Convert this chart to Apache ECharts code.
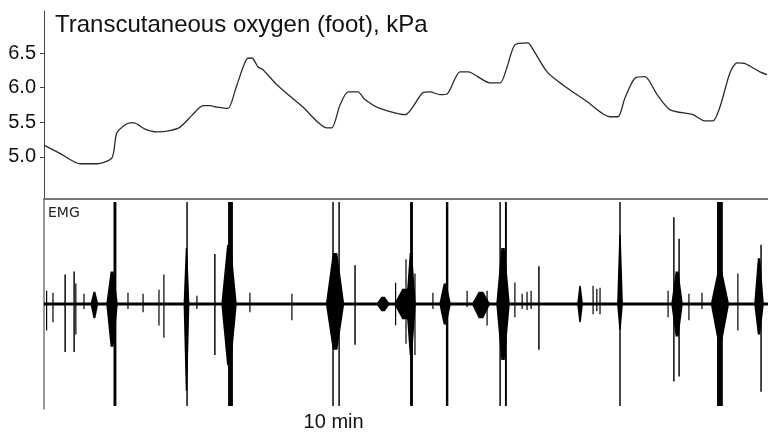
<!DOCTYPE html>
<html>
<head>
<meta charset="utf-8">
<script src="https://cdn.jsdelivr.net/npm/echarts@6/dist/echarts.min.js"></script>
<style>html,body{margin:0;padding:0;background:#fff}#c{width:768px;height:432px}</style>
</head>
<body>
<div id="c"></div>
<script>
// ---- Transcutaneous oxygen (foot), kPa : time in minutes ----
const o2Time = [0.00,0.55,1.24,1.83,2.35,2.52,2.97,3.11,3.49,3.90,4.35,4.70,5.11,5.49,5.73,5.97,6.35,6.63,7.01,7.18,7.39,7.56,8.05,8.94,9.77,9.94,10.22,10.50,10.84,11.08,11.60,12.47,13.09,13.33,13.67,13.92,14.36,14.64,15.40,15.75,15.99,16.26,16.71,16.89,17.37,17.92,18.75,19.54,19.82,20.06,20.41,20.75,21.17,21.62,22.41,22.82,23.10,23.34,23.69,23.93,24.21,24.72,24.97];
const o2Value = [5.17,5.05,4.90,4.90,4.99,5.35,5.49,5.49,5.40,5.36,5.38,5.43,5.60,5.74,5.74,5.72,5.70,6.00,6.42,6.43,6.30,6.26,6.04,5.72,5.42,5.42,5.75,5.94,5.94,5.83,5.70,5.61,5.93,5.94,5.90,5.91,6.23,6.23,6.07,6.07,6.30,6.62,6.65,6.55,6.23,6.04,5.80,5.58,5.58,5.85,6.14,6.16,5.90,5.68,5.61,5.52,5.52,5.72,6.22,6.36,6.35,6.23,6.19];
const o2Ticks = [5.0, 5.5, 6.0, 6.5];

// ---- EMG spikes: time (min), upper amp, lower amp, duration (s) ----
const spikeT    = [0.09,0.31,0.73,1.04,1.10,1.38,2.45,2.90,3.42,3.97,4.14,4.94,5.28,5.90,6.44,7.11,8.56,9.98,10.19,10.74,12.14,12.50,12.69,12.81,13.43,13.92,14.61,15.30,15.75,15.95,16.26,16.51,16.68,16.82,17.09,18.96,19.09,19.20,19.89,21.55,21.75,21.93,22.27,22.72,23.34,23.96,24.76];
const spikeUp   = [0.13,0.11,0.29,0.32,0.20,0.10,1.00,0.11,0.10,0.14,0.29,1.00,0.08,0.49,1.00,0.11,0.10,1.00,1.00,0.38,0.21,0.44,1.00,0.30,0.11,1.00,0.13,0.13,1.00,1.00,0.21,0.10,0.12,0.13,0.37,0.18,0.15,0.16,1.00,0.13,0.85,0.64,0.10,0.11,1.00,0.30,0.58];
const spikeDown = [-0.26,-0.18,-0.47,-0.47,-0.30,-0.05,-1.00,-0.05,-0.08,-0.21,-0.33,-1.00,-0.05,-0.50,-1.00,-0.08,-0.16,-1.00,-1.00,-0.40,-0.21,-0.39,-1.00,-0.50,-0.05,-1.00,-0.03,-0.21,-1.00,-1.00,-0.13,-0.05,-0.06,-0.05,-0.45,-0.10,-0.07,-0.10,-1.00,-0.13,-0.76,-0.71,-0.16,-0.05,-1.00,-0.26,-0.86];
const spikeDur  = [2,2,3,3,2,2,6,2,2,2,2,3,2,3,10,2,2,3,3,3,2,2,6,2,2,5,2,2,3,4,2,2,2,2,3,2,2,2,3,2,3,3,2,2,12,2,3];

// ---- EMG bursts (spindles): centre time (min), upper, lower, half-duration (s) ----
const burstT    = [1.74,2.35,4.92,6.39,10.05,11.71,12.47,12.67,13.85,15.09,15.85,18.51,19.89,21.86,23.34,24.69];
const burstUp   = [0.12,0.32,0.55,0.58,0.50,0.07,0.15,0.50,0.20,0.12,0.55,0.18,0.68,0.32,0.32,0.45];
const burstDown = [-0.14,-0.42,-0.85,-0.60,-0.45,-0.07,-0.15,-0.50,-0.20,-0.14,-0.55,-0.18,-0.25,-0.32,-0.36,-0.30];
const burstHalf = [8,12,6,16,19,14,23,10,12,19,14,6,6,12,19,10];

const emgBaseT = [0, 25];
const xTickValues = [10];
const xTickLabels = ['10 min'];

const chart = echarts.init(document.getElementById('c'), null, {renderer: 'canvas'});
const FONT = "'Liberation Sans', Arial, sans-serif";

const spikeData = spikeT.map((t, i) => [t, spikeUp[i], spikeDown[i], spikeDur[i]]);
const burstData = burstT.map((t, i) => [t, burstUp[i], burstDown[i], burstHalf[i]]);

chart.setOption({
  animation: false,
  backgroundColor: '#fff',
  grid: [
    {left: 44, right: 0, top: 11, bottom: 233},
    {left: 44, right: 0, top: 199, bottom: 21}
  ],
  xAxis: [
    {gridIndex: 0, type: 'value', min: 0, max: 25, show: false},
    {gridIndex: 1, type: 'value', min: 0, max: 25, position: 'bottom',
     axisLine: {show: true, lineStyle: {color: '#777', width: 2}},
     axisTick: {show: false}, splitLine: {show: false},
     axisLabel: {show: true, customValues: xTickValues, margin: 3,
       formatter: v => xTickLabels[xTickValues.indexOf(v)] || '',
       fontFamily: FONT, fontSize: 20, color: '#111'}},
    {gridIndex: 1, type: 'value', min: 0, max: 25, position: 'top',
     axisLine: {show: true, lineStyle: {color: '#777', width: 2}},
     axisTick: {show: false}, axisLabel: {show: false}, splitLine: {show: false}}
  ],
  yAxis: [
    {gridIndex: 0, type: 'value', min: 4.39, max: 7.11,
     axisLine: {show: true, lineStyle: {color: '#444', width: 1}},
     axisTick: {show: true, inside: false, length: 4, customValues: o2Ticks, lineStyle: {color: '#444'}},
     axisLabel: {show: true, customValues: o2Ticks, margin: 8, formatter: v => v.toFixed(1),
       fontFamily: FONT, fontSize: 20, color: '#111'},
     splitLine: {show: false}},
    {gridIndex: 1, type: 'value', min: -1.03, max: 1.03,
     axisLine: {show: true, lineStyle: {color: '#777', width: 1.5}},
     axisTick: {show: false}, axisLabel: {show: false}, splitLine: {show: false}}
  ],
  series: [
    {type: 'line', xAxisIndex: 0, yAxisIndex: 0, symbol: 'none', smooth: 0.25,
     data: o2Time.map((t, i) => [t, o2Value[i]]),
     lineStyle: {color: '#2a2a2a', width: 1.3}},
    {type: 'line', xAxisIndex: 1, yAxisIndex: 1, symbol: 'none',
     data: emgBaseT.map(t => [t, 0]),
     lineStyle: {color: '#000', width: 3}},
    {type: 'custom', xAxisIndex: 1, yAxisIndex: 1, clip: true,
     data: burstData,
     encode: {x: 0, y: [1, 2]},
     renderItem: (params, api) => {
       const t = api.value(0), up = api.value(1), dn = api.value(2), h = api.value(3) / 60;
       const pl = api.coord([t - h, 0]), pr = api.coord([t + h, 0]);
       const pul = api.coord([t - h * 0.25, up]), pur = api.coord([t + h * 0.25, up]);
       const pdl = api.coord([t - h * 0.25, dn]), pdr = api.coord([t + h * 0.25, dn]);
       return {type: 'polygon', shape: {points: [pl, pul, pur, pr, pdr, pdl]}, style: {fill: '#000'}};
     }},
    {type: 'custom', xAxisIndex: 1, yAxisIndex: 1, clip: true,
     data: spikeData,
     encode: {x: 0, y: [1, 2]},
     renderItem: (params, api) => {
       const t = api.value(0), up = api.value(1), dn = api.value(2), d = api.value(3) / 60;
       const p1 = api.coord([t - d / 2, up]), p2 = api.coord([t + d / 2, dn]);
       const w = Math.max(1.2, p2[0] - p1[0]);
       return {type: 'rect', shape: {x: (p1[0] + p2[0]) / 2 - w / 2, y: p1[1], width: w, height: p2[1] - p1[1]},
               style: {fill: '#000'}};
     }}
  ],
  graphic: [
    {type: 'text', left: 55, top: 13, style: {text: 'Transcutaneous oxygen (foot), kPa',
      font: "24px 'Liberation Sans', Arial, sans-serif", fill: '#111'}},
    {type: 'text', left: 48, top: 206, style: {text: 'EMG',
      font: "14px 'DejaVu Sans', sans-serif", fill: '#222'}}
  ]
});
</script>
</body>
</html>
